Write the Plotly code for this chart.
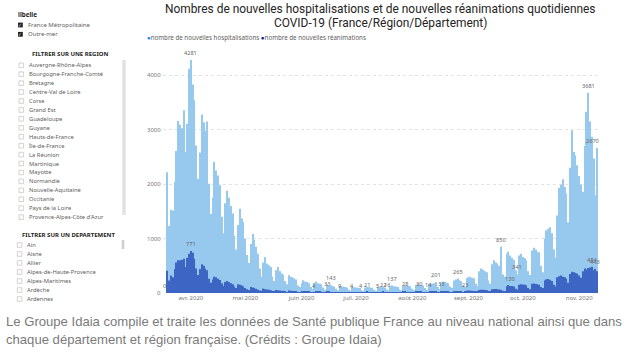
import pandas as pd
import plotly.graph_objects as go

# ---------------- data ----------------
start_date = "2020-03-18"

hospitalisations = [
    0,
    2220, 1230, 1530, 1515, 2040, 2610, 3160, 3090, 3030, 3360, 2590, 3110, 4120,
    4281, 3830, 3540, 2710, 2100, 2580, 3280, 3140, 2975, 3150,
    2010, 1450, 1750, 2410, 2250, 2160, 1980,
    1400, 1100, 1650, 1880, 1750, 1600, 1460,
    1050, 800, 1250, 1550, 1370, 1300, 1000,
    700, 550, 900, 1090, 980, 850, 720,
    450, 300, 560, 660, 540, 510, 480,
    300, 220, 420, 480, 400, 360, 330,
    220, 160, 325, 300, 290, 270, 250,
    140, 110, 180, 233, 210, 200, 180,
    110, 70, 190, 210, 180, 170, 160,
    100, 60, 160, 130, 143, 130, 120,
    80, 50, 130, 125, 120, 110, 100,
    60, 40, 110, 105, 100, 95, 90,
    55, 35, 100, 110, 105, 100, 95,
    60, 40, 110, 115, 105, 110, 100,
    65, 45, 120, 137, 125, 120, 110,
    70, 50, 130, 140, 135, 130, 125,
    80, 55, 150, 160, 150, 145, 140,
    90, 60, 160, 175, 170, 180, 201,
    110, 70, 190, 210, 200, 190, 180,
    120, 90, 230, 250, 265, 240, 220,
    140, 110, 270, 290, 300, 280, 270,
    170, 130, 400, 450, 430, 400, 380,
    230, 170, 530, 600, 560, 540, 500,
    850, 340, 300, 720, 760, 690, 650,
    610, 420, 341, 690, 720, 660, 640,
    600, 400, 330, 780, 830, 800, 760,
    750, 500, 380, 1000, 1150, 1180, 1210,
    1100, 800, 650, 1425, 1930, 1990, 2090,
    1950, 1825, 1300, 2300, 2990, 2590, 2530,
    2350, 2150, 2000, 1860, 2700, 3330, 3681,
    3150, 2870, 2470, 1800, 2670,
]

reanimations = [
    0,
    410, 230, 320, 290, 440, 560, 600, 600, 610, 630, 480, 650, 720,
    771, 740, 630, 450, 330, 440, 530, 500, 450, 420,
    260, 190, 250, 300, 290, 260, 240,
    180, 130, 200, 220, 200, 180, 160,
    120, 90, 160, 150, 140, 120, 90,
    70, 55, 110, 100, 90, 80, 60,
    45, 35, 80, 70, 65, 60, 50,
    35, 25, 55, 50, 45, 35, 40,
    25, 18, 45, 40, 35, 33, 30,
    18, 12, 28, 33, 30, 28, 25,
    12, 8, 4, 25, 22, 20, 18,
    10, 8, 33, 20, 18, 16, 15,
    8, 6, 9, 18, 16, 15, 14,
    7, 5, 4, 15, 14, 13, 12,
    4, 6, 14, 21, 15, 14, 13,
    7, 6, 5, 16, 15, 22, 14,
    16, 8, 16, 15, 14, 15, 13,
    8, 7, 20, 28, 18, 17, 16,
    9, 8, 22, 24, 30, 20, 18,
    10, 9, 14, 26, 24, 22, 20,
    12, 10, 33, 30, 28, 26, 24,
    15, 12, 35, 38, 36, 34, 32,
    18, 23, 42, 45, 44, 40, 38,
    25, 20, 55, 60, 58, 55, 52,
    30, 25, 70, 75, 72, 68, 65,
    60, 40, 35, 125, 145, 130, 128,
    120, 80, 60, 150, 160, 155, 150,
    140, 90, 70, 170, 175, 165, 160,
    150, 110, 90, 230, 250, 255, 245,
    220, 150, 120, 290, 310, 320, 300,
    290, 260, 190, 350, 390, 380, 370,
    360, 320, 280, 400, 450, 430, 460,
    470, 484, 420, 443, 400,
]

hosp_label_dates = ["2020-04-01", "2020-06-17", "2020-07-21", "2020-08-14", "2020-08-26",
                    "2020-09-19", "2020-09-28", "2020-11-06", "2020-11-11"]
rea_label_dates = ["2020-03-18", "2020-04-01", "2020-06-08", "2020-06-15", "2020-06-22",
                   "2020-06-29", "2020-07-04", "2020-07-07", "2020-07-13", "2020-07-16",
                   "2020-07-18", "2020-07-28", "2020-08-05", "2020-08-10", "2020-08-17",
                   "2020-08-30", "2020-09-24", "2020-11-08", "2020-11-10"]

month_ticks = ["2020-04-01", "2020-05-01", "2020-06-01", "2020-07-01",
               "2020-08-01", "2020-09-01", "2020-10-01", "2020-11-01"]
month_labels = ["avr. 2020", "mai 2020", "juin 2020", "juil. 2020",
                "août 2020", "sept. 2020", "oct. 2020", "nov. 2020"]
y_ticks = [0, 1000, 2000, 3000, 4000]

title_lines = ["Nombres de nouvelles hospitalisations et de nouvelles réanimations quotidiennes",
               "COVID-19 (France/Région/Département)"]
series_names = ["nombre de nouvelles hospitalisations", "nombre de nouvelles réanimations"]

libelle_items = ["France Métropolitaine", "Outre-mer"]
regions = ["Auvergne-Rhône-Alpes", "Bourgogne-Franche-Comté", "Bretagne", "Centre-Val de Loire",
           "Corse", "Grand Est", "Guadeloupe", "Guyane", "Hauts-de-France", "Île-de-France",
           "La Réunion", "Martinique", "Mayotte", "Normandie", "Nouvelle-Aquitaine",
           "Occitanie", "Pays de la Loire", "Provence-Alpes-Côte d'Azur"]
departements = ["Ain", "Aisne", "Allier", "Alpes-de-Haute-Provence", "Alpes-Maritimes",
                "Ardèche", "Ardennes"]
caption_lines = ["Le Groupe Idaia compile et traite les données de Santé publique France au niveau national ainsi que dans",
                 "chaque département et région française. (Crédits : Groupe Idaia)"]

# ---------------- figure ----------------
n = min(len(hospitalisations), len(reanimations))
dates = pd.date_range(start_date, periods=n, freq="D")
hosp = hospitalisations[:n]
rea = reanimations[:n]
day_ms = 86400000

W, H = 625, 355
L, R, T, B = 163, 25, 55, 62
pw, ph = W - L - R, H - T - B


def fx(x):
    return (x - L) / pw


def fy(y):
    return (H - B - y) / ph


ann = []
shapes = []


def text(x, y, s, size, color, anchor="left", family="Noto Sans"):
    ann.append(dict(x=fx(x), y=fy(y), xref="paper", yref="paper", text=s, showarrow=False,
                    xanchor=anchor, yanchor="middle", borderpad=0,
                    font=dict(size=size, color=color, family=family)))


def rect(x0, y0, x1, y1, fill, line=None):
    shapes.append(dict(type="rect", xref="paper", yref="paper", x0=fx(x0), x1=fx(x1),
                       y0=fy(y1), y1=fy(y0), fillcolor=fill,
                       line=dict(width=0.8 if line else 0, color=line or fill), layer="above"))


def checkbox(x, y, checked):
    if checked:
        rect(x, y - 2.4, x + 4.8, y + 2.4, "#252423")
        text(x + 2.4, y, "✓", 4.5, "white", anchor="center", family="DejaVu Sans")
    else:
        rect(x, y - 2.3, x + 4.6, y + 2.3, "white", line="#C8C8C8")


# slicer panel
text(16.5, 15, "<b>libelle</b>", 6.3, "#252423")
for k, item in enumerate(libelle_items):
    yy = 25 + 9.3 * k
    checkbox(18, yy, True)
    text(26.5, yy, item, 6.0, "#605E5C")

text(70, 54, "<b>FILTRER SUR UNE REGION</b>", 6.0, "#252423", anchor="center")
for k, item in enumerate(regions):
    yy = 65.3 + 8.93 * k
    checkbox(19, yy, False)
    text(27.5, yy, item, 5.8, "#605E5C")
rect(122.3, 60, 125.7, 215, "#E1E1E1")

text(68.5, 235, "<b>FILTRER SUR UN DEPARTEMENT</b>", 6.0, "#252423", anchor="center")
for k, item in enumerate(departements):
    yy = 245 + 9 * k
    checkbox(17.3, yy, False)
    text(26, yy, item, 5.8, "#605E5C")
rect(121.7, 240, 124.3, 249, "#CFCFCF")

# title + legend
text(380, 8.5, title_lines[0], 11.9, "#252423", anchor="center", family="Roboto")
text(380, 22.5, title_lines[1], 11.9, "#252423", anchor="center", family="Roboto")
text(146, 37.3,
     '<span style="color:#118DFF">●</span>' + series_names[0] +
     ' <span style="color:#12239E">●</span>' + series_names[1],
     6.2, "#605E5C")

# caption
text(5, 321, caption_lines[0], 13.1, "#7A7A7A", family="Liberation Sans")
text(5, 339, caption_lines[1], 13.1, "#7A7A7A", family="Liberation Sans")

# y tick labels (drawn close to the plot like the reference)
for v in y_ticks:
    ann.append(dict(x=fx(161.5), y=v, xref="paper", yref="y", text=str(v), showarrow=False,
                    xanchor="right", yanchor="middle", borderpad=0,
                    font=dict(size=6, color="#777777", family="Noto Sans")))

# data labels
pos = {d.strftime("%Y-%m-%d"): i for i, d in enumerate(dates)}
for d in hosp_label_dates:
    i = pos[d]
    last = i == n - 1
    ann.append(dict(x=dates[i], y=hosp[i], xref="x", yref="y", text=str(hosp[i]), showarrow=False,
                    xanchor="right" if last else "center", xshift=3 if last else 0,
                    yanchor="bottom", yshift=2, borderpad=0,
                    font=dict(size=5.6, color="#666666", family="Noto Sans")))
for d in rea_label_dates:
    i = pos[d]
    ann.append(dict(x=dates[i], y=rea[i], xref="x", yref="y", text=str(rea[i]), showarrow=False,
                    xanchor="center", xshift=-1 if i == 0 else 0,
                    yanchor="bottom", yshift=2, borderpad=0,
                    font=dict(size=5.6, color="#666666", family="Noto Sans")))

fig = go.Figure()
fig.add_bar(x=dates, y=hosp, name=series_names[0], marker_color="#97C9EF",
            marker_line_width=0, width=day_ms * 0.6)
fig.add_bar(x=dates, y=rea, name=series_names[1], marker_color="#3D65C4",
            marker_line_width=0, width=day_ms * 0.6)

fig.update_layout(
    width=W, height=H, barmode="overlay", showlegend=False,
    margin=dict(l=L, r=R, t=T, b=B, pad=0),
    paper_bgcolor="white", plot_bgcolor="white",
    annotations=ann, shapes=shapes,
    font=dict(family="Noto Sans"),
)
fig.update_xaxes(type="date", range=["2020-03-16 15:00", "2020-11-12 12:00"],
                 tickvals=month_ticks, ticktext=month_labels,
                 tickfont=dict(size=6, color="#777777"), showgrid=False,
                 showline=False, ticks="", zeroline=False)
fig.update_yaxes(range=[0, 4374], tickvals=y_ticks, showticklabels=False,
                 showgrid=True, gridcolor="#E2E2E2", griddash="dot", gridwidth=1,
                 zeroline=False, showline=False, ticks="")

fig.write_html("out.html", config={"displayModeBar": False},
               post_script="document.body.style.margin='0px';document.body.style.padding='0px';")
